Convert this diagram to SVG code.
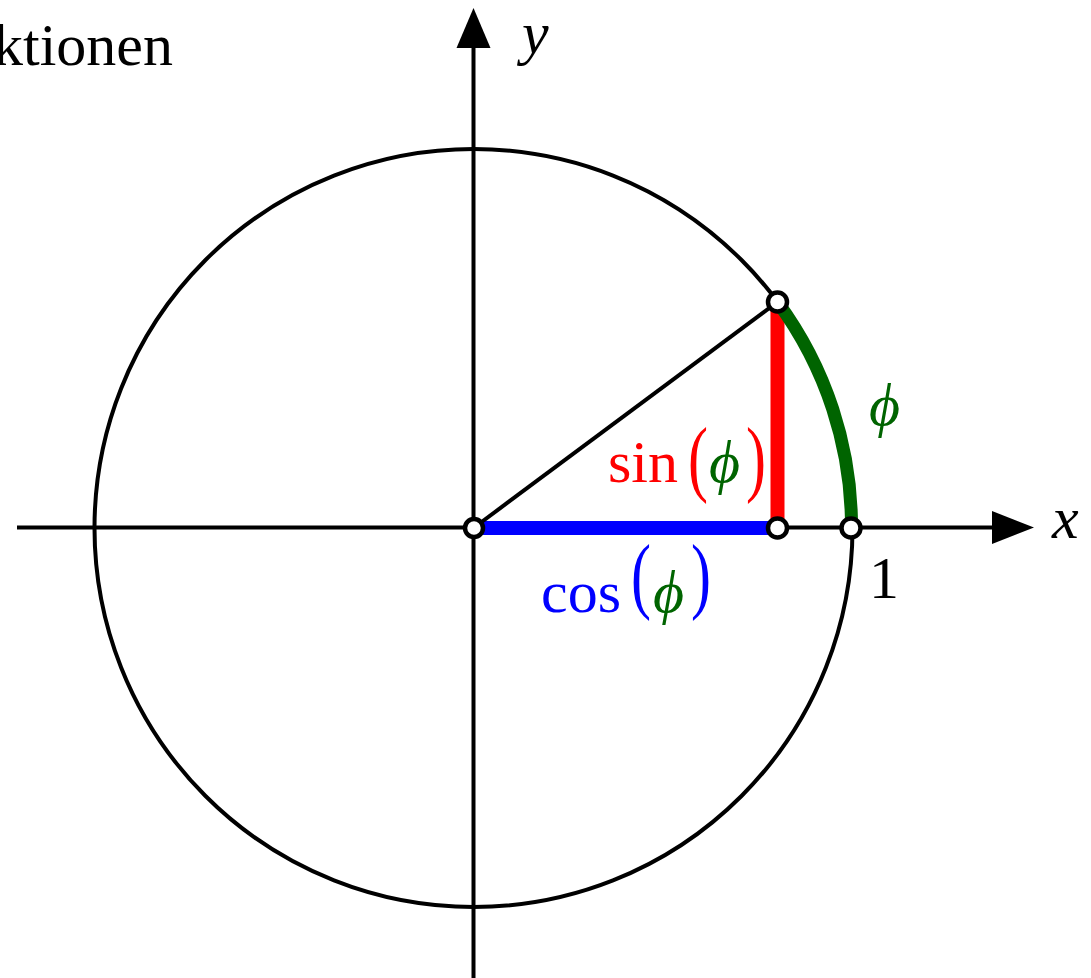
<svg xmlns="http://www.w3.org/2000/svg" width="1091" height="978" viewBox="0 0 1091 978">
<style>
text { font-family: "Liberation Serif", "Times New Roman", serif; font-size: 60px; }
.it { font-style: italic; }
.ax { stroke: #000; stroke-width: 4; fill: none; }
.pt { fill: #fff; stroke: #000; stroke-width: 4.5; }
.red { fill: #ff0000; }
.blue { fill: #0000ff; }
.green { fill: #006400; }
</style>
<rect width="1091" height="978" fill="#fff"/>
<g id="title"><text x="173" y="65" text-anchor="end">ktionen</text></g>
<g id="unit-circle"><circle cx="473.5" cy="528" r="379" class="ax"/></g>
<g id="connectors">
  <line x1="17" y1="527.5" x2="995" y2="527.5" class="ax"/>
  <polygon points="992,511 1034,527.5 992,544" fill="#000"/>
  <line x1="473.5" y1="978" x2="473.5" y2="45" class="ax"/>
  <polygon points="456.5,48 473.5,8 490.5,48" fill="#000"/>
  <line x1="473.5" y1="528" x2="777.5" y2="528" stroke="#0000ff" stroke-width="14"/>
  <line x1="777.5" y1="302" x2="777.5" y2="528" stroke="#ff0000" stroke-width="14"/>
  <path d="M 777.5 302 A 378 378 0 0 1 851.5 528" fill="none" stroke="#006400" stroke-width="13"/>
  <line x1="473.5" y1="528" x2="777.5" y2="302" class="ax"/>
</g>
<g id="points">
  <circle cx="474" cy="528" r="9" class="pt"/>
  <circle cx="777.5" cy="302" r="9.5" class="pt"/>
  <circle cx="777.5" cy="528" r="9.5" class="pt"/>
  <circle cx="851" cy="528" r="9.5" class="pt"/>
</g>
<g id="label-y"><text x="522" y="53" class="it">y</text></g>
<g id="label-x"><text x="1052" y="538" class="it">x</text></g>
<g id="label-1"><text x="869" y="598">1</text></g>
<g id="label-phi"><text x="869" y="425" class="it green">ϕ</text></g>
<g id="label-sin">
  <text x="608" y="482" class="red">sin</text>
  <text transform="translate(688,486) scale(1,1.4)" class="red">(</text>
  <text x="709" y="482" class="it green">ϕ</text>
  <text transform="translate(746,486) scale(1,1.4)" class="red">)</text>
</g>
<g id="label-cos">
  <text x="541" y="612" class="blue">cos</text>
  <text transform="translate(631,603) scale(1,1.4)" class="blue">(</text>
  <text x="653" y="612" class="it green">ϕ</text>
  <text transform="translate(691,603) scale(1,1.4)" class="blue">)</text>
</g>
</svg>
